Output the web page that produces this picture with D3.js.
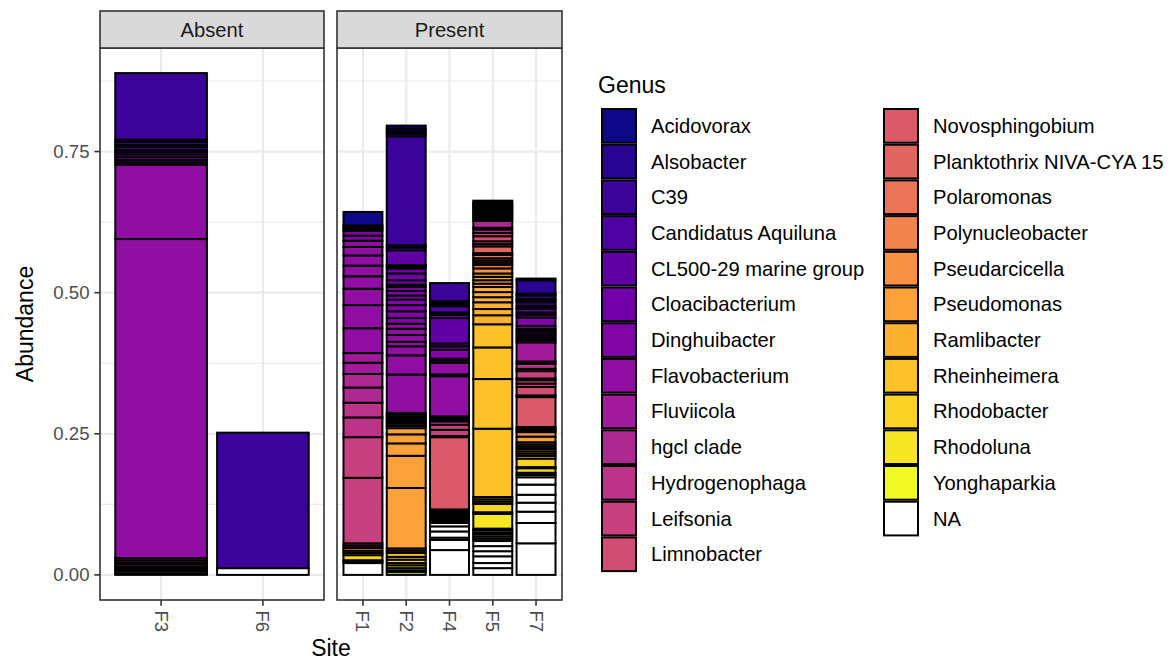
<!DOCTYPE html>
<html>
<head>
<meta charset="utf-8">
<script src="https://cdn.jsdelivr.net/npm/d3@7/dist/d3.min.js"></script>
<style>
  html, body { margin: 0; padding: 0; background: #fff; }
  svg { display: block; font-family: "Liberation Sans", Arial, Helvetica, sans-serif; }
</style>
</head>
<body>
<svg id="chart" width="1175" height="660"></svg>
<script>
// ---- data -------------------------------------------------------------
const genera = ["Acidovorax", "Alsobacter", "C39", "Candidatus Aquiluna",
  "CL500-29 marine group", "Cloacibacterium", "Dinghuibacter", "Flavobacterium",
  "Fluviicola", "hgcl clade", "Hydrogenophaga", "Leifsonia", "Limnobacter",
  "Novosphingobium", "Planktothrix NIVA-CYA 15", "Polaromonas", "Polynucleobacter",
  "Pseudarcicella", "Pseudomonas", "Ramlibacter", "Rheinheimera", "Rhodobacter",
  "Rhodoluna", "Yonghaparkia", "NA"];

const facets = ["Absent", "Present"];
const absentSites = ["F3", "F6"];
const presentSites = ["F1", "F2", "F4", "F5", "F7"];
const yTicks = [0, 0.25, 0.5, 0.75];
const yMinorTicks = [0.125, 0.375, 0.625, 0.875];

// one row per OTU, listed from the bottom of the stack to the top
const siteF3 = [["NA",0.002],
  ["Pseudomonas",0.004],["Polynucleobacter",0.003],["Novosphingobium",0.003],["Limnobacter",0.003],
  ["Leifsonia",0.004],["Hydrogenophaga",0.003],["hgcl clade",0.004],["Fluviicola",0.004],
  ["Flavobacterium",0.565],["Flavobacterium",0.132],
  ["Flavobacterium",0.004],["Dinghuibacter",0.004],["Dinghuibacter",0.005],["Cloacibacterium",0.005],
  ["CL500-29 marine group",0.004],["CL500-29 marine group",0.004],
  ["Candidatus Aquiluna",0.005],["Candidatus Aquiluna",0.004],["Candidatus Aquiluna",0.005],["Candidatus Aquiluna",0.004],
  ["C39",0.118]];

const siteF6 = [["NA",0.012],["C39",0.240]];

const siteF1 = [["NA",0.021],
  ["Yonghaparkia",0.003],["Rhodoluna",0.002],["Rhodobacter",0.009],
  ["Rheinheimera",0.004],["Ramlibacter",0.004],["Pseudomonas",0.005],["Polaromonas",0.004],["Novosphingobium",0.004],
  ["Leifsonia",0.116],["Leifsonia",0.072],
  ["Hydrogenophaga",0.035],["Hydrogenophaga",0.026],
  ["hgcl clade",0.027],["hgcl clade",0.024],
  ["Fluviicola",0.020],["Fluviicola",0.017],
  ["Flavobacterium",0.044],["Flavobacterium",0.041],["Flavobacterium",0.029],["Flavobacterium",0.022],
  ["Flavobacterium",0.019],["Flavobacterium",0.018],["Flavobacterium",0.015],["Flavobacterium",0.011],
  ["Dinghuibacter",0.009],["Dinghuibacter",0.009],
  ["CL500-29 marine group",0.003],["C39",0.003],["Alsobacter",0.003],
  ["Acidovorax",0.024]];

const siteF2 = [["Yonghaparkia",0.005],["Yonghaparkia",0.003],["Yonghaparkia",0.004],
  ["Rhodoluna",0.005],["Rhodobacter",0.004],["Rhodobacter",0.006],
  ["Rheinheimera",0.005],["Rheinheimera",0.007],["Ramlibacter",0.004],["Ramlibacter",0.004],
  ["Pseudomonas",0.107],["Pseudomonas",0.057],["Pseudomonas",0.022],["Pseudomonas",0.016],["Pseudomonas",0.011],
  ["Pseudarcicella",0.004],["Polynucleobacter",0.004],["Polaromonas",0.003],["Planktothrix NIVA-CYA 15",0.003],
  ["Novosphingobium",0.003],["Limnobacter",0.003],["Leifsonia",0.004],["Hydrogenophaga",0.003],
  ["Flavobacterium",0.068],["Flavobacterium",0.034],["Flavobacterium",0.016],["Flavobacterium",0.008],
  ["Flavobacterium",0.012],["Flavobacterium",0.011],["Flavobacterium",0.009],
  ["Dinghuibacter",0.010],["Dinghuibacter",0.012],["Dinghuibacter",0.011],["Dinghuibacter",0.010],
  ["Dinghuibacter",0.007],["Dinghuibacter",0.008],["Dinghuibacter",0.007],
  ["Cloacibacterium",0.004],["Cloacibacterium",0.008],["Cloacibacterium",0.012],["Cloacibacterium",0.009],
  ["Cloacibacterium",0.003],["Cloacibacterium",0.003],
  ["CL500-29 marine group",0.026],
  ["Candidatus Aquiluna",0.005],["Candidatus Aquiluna",0.004],
  ["C39",0.193],
  ["Alsobacter",0.005],["Alsobacter",0.004],["Acidovorax",0.005],["Acidovorax",0.005]];

const siteF4 = [["NA",0.044],["NA",0.018],["NA",0.004],["NA",0.011],["NA",0.009],["NA",0.006],
  ["Yonghaparkia",0.003],["Rhodoluna",0.003],["Rhodobacter",0.003],["Rheinheimera",0.003],
  ["Ramlibacter",0.003],["Pseudomonas",0.003],["Polaromonas",0.003],["Planktothrix NIVA-CYA 15",0.003],
  ["Novosphingobium",0.128],["Limnobacter",0.002],
  ["Leifsonia",0.011],["Leifsonia",0.009],["Hydrogenophaga",0.006],
  ["hgcl clade",0.003],["hgcl clade",0.003],["Fluviicola",0.003],
  ["Flavobacterium",0.071],["Flavobacterium",0.003],["Flavobacterium",0.021],
  ["Dinghuibacter",0.004],["Dinghuibacter",0.003],["Dinghuibacter",0.016],["Dinghuibacter",0.006],
  ["Cloacibacterium",0.005],
  ["CL500-29 marine group",0.045],["CL500-29 marine group",0.006],["CL500-29 marine group",0.004],
  ["Candidatus Aquiluna",0.011],["Candidatus Aquiluna",0.003],["Candidatus Aquiluna",0.003],["Candidatus Aquiluna",0.003],
  ["C39",0.032]];

const siteF5 = [["NA",0.012],["NA",0.009],["NA",0.012],["NA",0.009],["NA",0.009],["NA",0.009],
  ["Yonghaparkia",0.004],["Yonghaparkia",0.004],["Yonghaparkia",0.004],["Yonghaparkia",0.003],
  ["Yonghaparkia",0.004],["Yonghaparkia",0.003],
  ["Rhodoluna",0.026],["Rhodoluna",0.003],
  ["Rhodobacter",0.015],["Rhodobacter",0.004],["Rhodobacter",0.004],["Rhodobacter",0.004],
  ["Rheinheimera",0.121],["Rheinheimera",0.088],["Rheinheimera",0.056],["Rheinheimera",0.041],
  ["Ramlibacter",0.016],["Ramlibacter",0.011],["Ramlibacter",0.012],["Ramlibacter",0.009],
  ["Ramlibacter",0.009],["Ramlibacter",0.009],
  ["Pseudomonas",0.006],["Pseudomonas",0.006],["Pseudomonas",0.006],["Pseudomonas",0.006],
  ["Pseudarcicella",0.009],
  ["Polynucleobacter",0.006],["Polynucleobacter",0.004],["Polaromonas",0.004],["Polaromonas",0.004],["Polaromonas",0.006],
  ["Planktothrix NIVA-CYA 15",0.003],["Planktothrix NIVA-CYA 15",0.012],
  ["Novosphingobium",0.004],["Novosphingobium",0.005],
  ["Limnobacter",0.009],["Leifsonia",0.006],["Hydrogenophaga",0.006],
  ["hgcl clade",0.003],["hgcl clade",0.012],
  ["Fluviicola",0.003],["Flavobacterium",0.003],["Flavobacterium",0.003],["Dinghuibacter",0.003],
  ["Cloacibacterium",0.003],["CL500-29 marine group",0.003],["Candidatus Aquiluna",0.003],
  ["C39",0.003],["C39",0.003],["Alsobacter",0.003],["Alsobacter",0.003],["Acidovorax",0.003]];

const siteF7 = [["NA",0.056],["NA",0.036],["NA",0.020],["NA",0.016],["NA",0.014],["NA",0.018],["NA",0.013],
  ["Yonghaparkia",0.004],["Yonghaparkia",0.004],
  ["Rhodoluna",0.008],["Rhodoluna",0.002],["Rhodobacter",0.015],
  ["Rheinheimera",0.005],["Rheinheimera",0.004],["Ramlibacter",0.004],["Ramlibacter",0.004],
  ["Pseudomonas",0.004],["Pseudomonas",0.004],["Pseudomonas",0.004],["Pseudomonas",0.010],
  ["Pseudarcicella",0.008],
  ["Polynucleobacter",0.003],["Polaromonas",0.003],["Planktothrix NIVA-CYA 15",0.003],
  ["Novosphingobium",0.053],["Novosphingobium",0.003],
  ["Limnobacter",0.015],["Limnobacter",0.006],
  ["Leifsonia",0.006],["Leifsonia",0.003],["Leifsonia",0.013],["Leifsonia",0.004],
  ["Hydrogenophaga",0.009],["hgcl clade",0.004],
  ["Fluviicola",0.034],
  ["Flavobacterium",0.004],["Flavobacterium",0.004],["Flavobacterium",0.004],["Flavobacterium",0.004],
  ["Dinghuibacter",0.004],["Dinghuibacter",0.004],["Dinghuibacter",0.005],["Dinghuibacter",0.015],
  ["Cloacibacterium",0.005],["Cloacibacterium",0.004],
  ["CL500-29 marine group",0.006],["CL500-29 marine group",0.003],
  ["Candidatus Aquiluna",0.003],["Candidatus Aquiluna",0.006],["Candidatus Aquiluna",0.003],
  ["C39",0.003],["C39",0.006],["C39",0.003],
  ["Alsobacter",0.024],["Acidovorax",0.003]];

const siteRows = { F3: siteF3, F6: siteF6, F1: siteF1, F2: siteF2, F4: siteF4, F5: siteF5, F7: siteF7 };
const facetSites = { Absent: absentSites, Present: presentSites };

// ---- scales -----------------------------------------------------------
const svg = d3.select("#chart");
const fontSmall = 20.2, fontTick = 18.6, fontTitle = 23;
const barStroke = 2;

const fill = d3.scaleOrdinal()
  .domain(genera)
  .range(genera.map((g, i) => g === "NA" ? "#ffffff" : d3.interpolatePlasma(i / (genera.length - 2))));

// stacked rows per site
const stacked = {};
Object.keys(siteRows).forEach(site => {
  const vals = siteRows[site].map(d => d[1]);
  const tops = Array.from(d3.cumsum(vals));
  stacked[site] = siteRows[site].map((d, i) => ({ genus: d[0], y0: tops[i] - d[1], y1: tops[i] }));
});
const yMax = d3.max(Object.values(stacked), rows => rows[rows.length - 1].y1);

const panelTop = 48, panelBottom = 600;
const y = d3.scaleLinear()
  .domain([-0.05 * yMax, yMax * 1.05])
  .range([panelBottom, panelTop]);

const panels = [
  { facet: facets[0], x0: 100, x1: 324 },
  { facet: facets[1], x0: 337, x1: 562 }
];

const gridColor = "#ebebeb", frameColor = "#333333";

panels.forEach(p => {
  const sites = facetSites[p.facet];
  const x = d3.scaleBand().domain(sites).range([p.x0, p.x1])
    .paddingInner(0.1).paddingOuter(0.15);
  const g = svg.append("g");

  // panel background and grid
  g.append("rect").attr("x", p.x0).attr("y", panelTop)
    .attr("width", p.x1 - p.x0).attr("height", panelBottom - panelTop).attr("fill", "#fff");
  g.selectAll(".ymin").data(yMinorTicks).join("line")
    .attr("x1", p.x0).attr("x2", p.x1).attr("y1", d => y(d)).attr("y2", d => y(d))
    .attr("stroke", gridColor).attr("stroke-width", 1.1);
  g.selectAll(".ymaj").data(yTicks).join("line")
    .attr("x1", p.x0).attr("x2", p.x1).attr("y1", d => y(d)).attr("y2", d => y(d))
    .attr("stroke", gridColor).attr("stroke-width", 2.2);
  g.selectAll(".xmaj").data(sites).join("line")
    .attr("x1", d => x(d) + x.bandwidth() / 2).attr("x2", d => x(d) + x.bandwidth() / 2)
    .attr("y1", panelTop).attr("y2", panelBottom)
    .attr("stroke", gridColor).attr("stroke-width", 2.2);

  // stacked bars
  sites.forEach(site => {
    g.append("g").selectAll("rect").data(stacked[site]).join("rect")
      .attr("x", x(site)).attr("width", x.bandwidth())
      .attr("y", d => y(d.y1)).attr("height", d => y(d.y0) - y(d.y1))
      .attr("fill", d => fill(d.genus))
      .attr("stroke", "#000").attr("stroke-width", barStroke);
  });

  // panel border
  g.append("rect").attr("x", p.x0).attr("y", panelTop)
    .attr("width", p.x1 - p.x0).attr("height", panelBottom - panelTop)
    .attr("fill", "none").attr("stroke", frameColor).attr("stroke-width", 1.6);

  // strip
  g.append("rect").attr("x", p.x0).attr("y", 11)
    .attr("width", p.x1 - p.x0).attr("height", panelTop - 11)
    .attr("fill", "#d9d9d9").attr("stroke", frameColor).attr("stroke-width", 1.6);
  g.append("text").attr("x", (p.x0 + p.x1) / 2).attr("y", 36.5)
    .attr("text-anchor", "middle").attr("font-size", fontSmall).attr("fill", "#1a1a1a")
    .text(p.facet);

  // x axis
  const xAxis = g.append("g");
  sites.forEach(site => {
    const cx = x(site) + x.bandwidth() / 2;
    xAxis.append("line").attr("x1", cx).attr("x2", cx)
      .attr("y1", panelBottom).attr("y2", panelBottom + 5.7)
      .attr("stroke", frameColor).attr("stroke-width", 1.6);
    xAxis.append("text")
      .attr("transform", `translate(${cx},${panelBottom + 10.5}) rotate(90)`)
      .attr("dominant-baseline", "central")
      .attr("font-size", fontTick).attr("fill", "#4d4d4d")
      .text(site);
  });
});

// y axis on the left panel
const yAxis = svg.append("g");
yTicks.forEach(t => {
  yAxis.append("line").attr("x1", 94.3).attr("x2", 100)
    .attr("y1", y(t)).attr("y2", y(t)).attr("stroke", frameColor).attr("stroke-width", 1.6);
  yAxis.append("text").attr("x", 89.5).attr("y", y(t))
    .attr("text-anchor", "end").attr("dominant-baseline", "central")
    .attr("font-size", fontTick).attr("fill", "#4d4d4d")
    .text(d3.format(".2f")(t));
});

// axis titles
svg.append("text").attr("x", 331).attr("y", 656)
  .attr("text-anchor", "middle").attr("font-size", fontTitle).attr("fill", "#000").text("Site");
svg.append("text").attr("transform", "translate(33,324) rotate(-90)")
  .attr("text-anchor", "middle").attr("font-size", fontTitle).attr("fill", "#000").text("Abundance");

// ---- legend -------------------------------------------------------------
const legend = svg.append("g");
legend.append("text").attr("x", 598).attr("y", 93)
  .attr("font-size", fontTitle).attr("fill", "#000").text("Genus");
const keyH = 35.7, keyW = 36, perCol = 13;
const colX = [601, 883];
genera.forEach((gname, i) => {
  const col = Math.floor(i / perCol), row = i % perCol;
  const kx = colX[col], ky = 108 + row * keyH;
  legend.append("rect").attr("x", kx + 1).attr("y", ky + 1)
    .attr("width", keyW - 2).attr("height", keyH - 2)
    .attr("fill", fill(gname)).attr("stroke", "#000").attr("stroke-width", 2);
  legend.append("text").attr("x", kx + 50).attr("y", ky + keyH / 2)
    .attr("dominant-baseline", "central")
    .attr("font-size", fontSmall).attr("fill", "#000").text(gname);
});
</script>
</body>
</html>
